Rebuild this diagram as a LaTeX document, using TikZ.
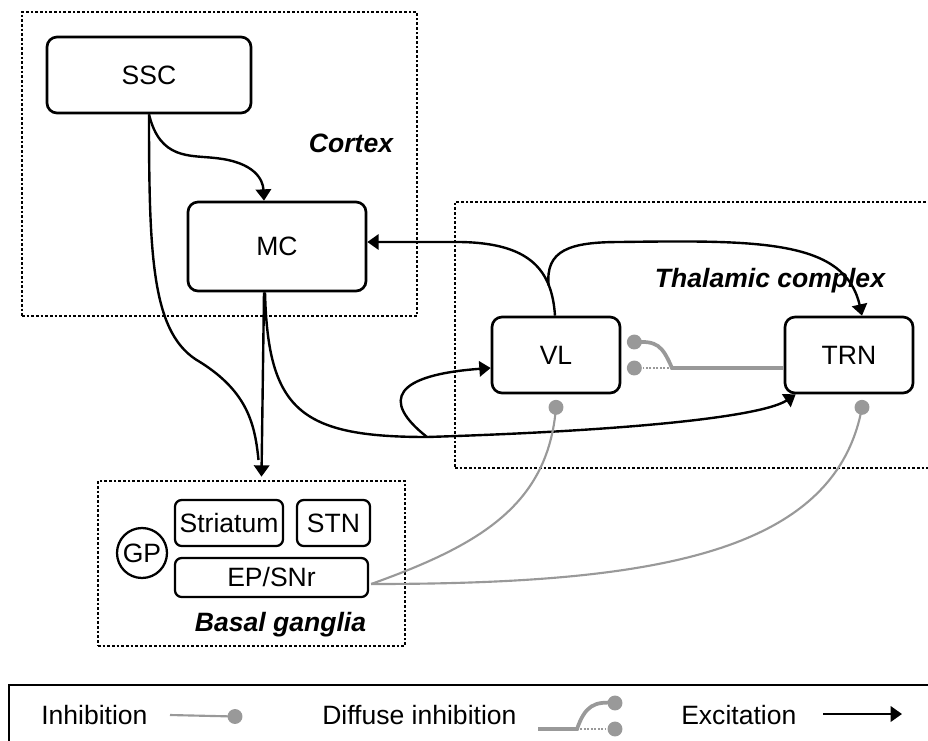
\documentclass[tikz,border=0pt]{standalone}
\usepackage{fontspec}
\setmainfont{Liberation Sans}
\usetikzlibrary{arrows.meta,calc}
\definecolor{inhgray}{RGB}{153,153,153}
\begin{document}
\begin{tikzpicture}[x=0.75pt,y=-0.75pt,
  every node/.style={font=\fontsize{19.9}{24}\selectfont},
  box/.style={draw, line width=2pt, rounded corners=7.5pt, inner sep=0pt},
  sbox/.style={draw, line width=1.7pt, rounded corners=5pt, inner sep=0pt},
  region/.style={draw, line width=2pt, dash pattern=on 2pt off 1.5pt, inner sep=0pt},
  lab/.style={font=\fontsize{19.9}{24}\selectfont\bfseries\itshape, inner sep=0pt, anchor=base},
  legtext/.style={inner sep=0pt, anchor=west},
  exc/.style={line width=1.8pt, -{Triangle[length=8.5pt,width=11.5pt]}},
  excl/.style={line width=1.8pt},
  inh/.style={draw=inhgray, line width=1.6pt},
  diffl/.style={draw=inhgray, line width=2.8pt},
  diffdot/.style={draw=inhgray, line width=1.5pt, dash pattern=on 1.3pt off 1.3pt},
  gdot/.style={fill=inhgray},
]
\useasboundingbox (0,0) rectangle (928,740);
\clip (0,0) rectangle (928,740);

% regions
\node[region, minimum width=296.25pt, minimum height=228pt] (CTX) at (219.5,164) {};
\node[region, minimum width=363.75pt, minimum height=199.5pt] (THAL) at (697.5,335) {};
\node[region, minimum width=230.25pt, minimum height=123.75pt] (BG) at (251.5,563.5) {};
\node[draw, line width=1.8pt, minimum width=698.25pt, minimum height=56.25pt, inner sep=0pt] (LEG) at (474.5,722.5) {};

% region labels
\node[lab] (cortexlab) at (351,152) {Cortex};
\node[lab] (thallab) at (770,287) {Thalamic complex};
\node[lab] (bglab) at (280.5,631) {Basal ganglia};

% main boxes
\node[box, minimum width=153pt, minimum height=57pt] (SSC) at (149,75) {SSC};
\node[box, minimum width=133.5pt, minimum height=66.75pt] (MC) at (277,246.5) {MC};
\node[box, minimum width=96pt, minimum height=57pt] (VL) at (556,355) {VL};
\node[box, minimum width=96pt, minimum height=57pt] (TRN) at (849,355) {TRN};

% basal ganglia contents
\node[sbox, minimum width=81pt, minimum height=34.5pt] (STR) at (229,523) {Striatum};
\node[sbox, minimum width=54.75pt, minimum height=34.5pt] (STN) at (333.5,523) {STN};
\node[sbox, minimum width=144.75pt, minimum height=29.25pt] (EP) at (271.5,577.5) {EP/SNr};
\node[draw, circle, line width=1.7pt, minimum size=37.5pt, inner sep=0pt] (GP) at (142,553) {GP};

% helper coordinates
\coordinate (merge) at (258.5,460);
\coordinate (split1) at (427,437);
\coordinate (split2) at (548.7,285.6);
\coordinate (epout) at ($(EP.east)+(2,6.5)$);
\coordinate (vldot) at ($(VL.south)+(0,13)$);
\coordinate (trndot) at ($(TRN.south)+(13,13)$);
\coordinate (dfj) at (672,368);
\coordinate (dfup) at ($(VL.east)+(13,-13)$);
\coordinate (dflo) at ($(VL.east)+(13,13)$);

% excitatory connections
\draw[exc] (SSC.south) .. controls (160,160) and (190,155) .. (215,158)
  .. controls (255,162) and (263,180) .. ($(MC.north)+(-13,0)$);
\draw[excl] (SSC.south) .. controls (149,260) and (152,335) .. (200,362)
  .. controls (248,392) and (255,425) .. (merge);
\draw[exc] ($(MC.south)+(-13,0)$) -- ($(BG.north)+(10,-3)$);
\draw[exc] ($(MC.south)+(-12,0)$) .. controls (268,410) and (300,437) .. (split1)
  .. controls (650,430) and (765,415) .. ($(TRN.south west)+(12,0)$);
\draw[exc] (split1) .. controls (380,400) and (395,375) .. ($(VL.west)+(0,13)$);
\draw[exc] ($(VL.north)+(-1,0)$) .. controls (552,270) and (530,243) .. (460,242)
  -- ($(MC.east)+(0,-4.5)$);
\draw[exc] (split2) .. controls (545,250) and (570,242) .. (620,242)
  .. controls (760,240) and (845,240) .. ($(TRN.north)+(13,0)$);

% diffuse inhibition TRN -> VL
\draw[diffl] ($(TRN.west)+(0,13)$) -- (dfj) .. controls (662,345) and (657,341) .. (dfup);
\draw[diffdot] (dfj) -- (dflo);
\fill[gdot] (dfup) circle[radius=5.6pt];
\fill[gdot] (dflo) circle[radius=5.6pt];

% inhibition from EP/SNr
\draw[inh] (epout) .. controls (480,545) and (548,505) .. (vldot);
\draw[inh] (epout) .. controls (650,584) and (835,555) .. (trndot);
\fill[gdot] (vldot) circle[radius=5.6pt];
\fill[gdot] (trndot) circle[radius=5.6pt];

% legend
\node[legtext] (linh) at (41,715) {Inhibition};
\node[legtext] (ldiff) at (322,715) {Diffuse inhibition};
\node[legtext] (lexc) at (681,715) {Excitation};
\coordinate (li1) at (170,715);
\coordinate (li2) at (235,716.5);
\draw[inh] (li1) -- (li2);
\fill[gdot] (li2) circle[radius=5.6pt];
\coordinate (ld0) at (538,729);
\coordinate (ldj) at (577,729);
\coordinate (ldup) at (615,703);
\coordinate (ldlo) at (615,729);
\draw[diffl] (ld0) -- (ldj) .. controls (585,706) and (594,701) .. (ldup);
\draw[diffdot] (ldj) -- (ldlo);
\fill[gdot] (ldup) circle[radius=5.6pt];
\fill[gdot] (ldlo) circle[radius=5.6pt];
\coordinate (le1) at (823,714);
\coordinate (le2) at (902,714);
\draw[exc] (le1) -- (le2);
\end{tikzpicture}
\end{document}
